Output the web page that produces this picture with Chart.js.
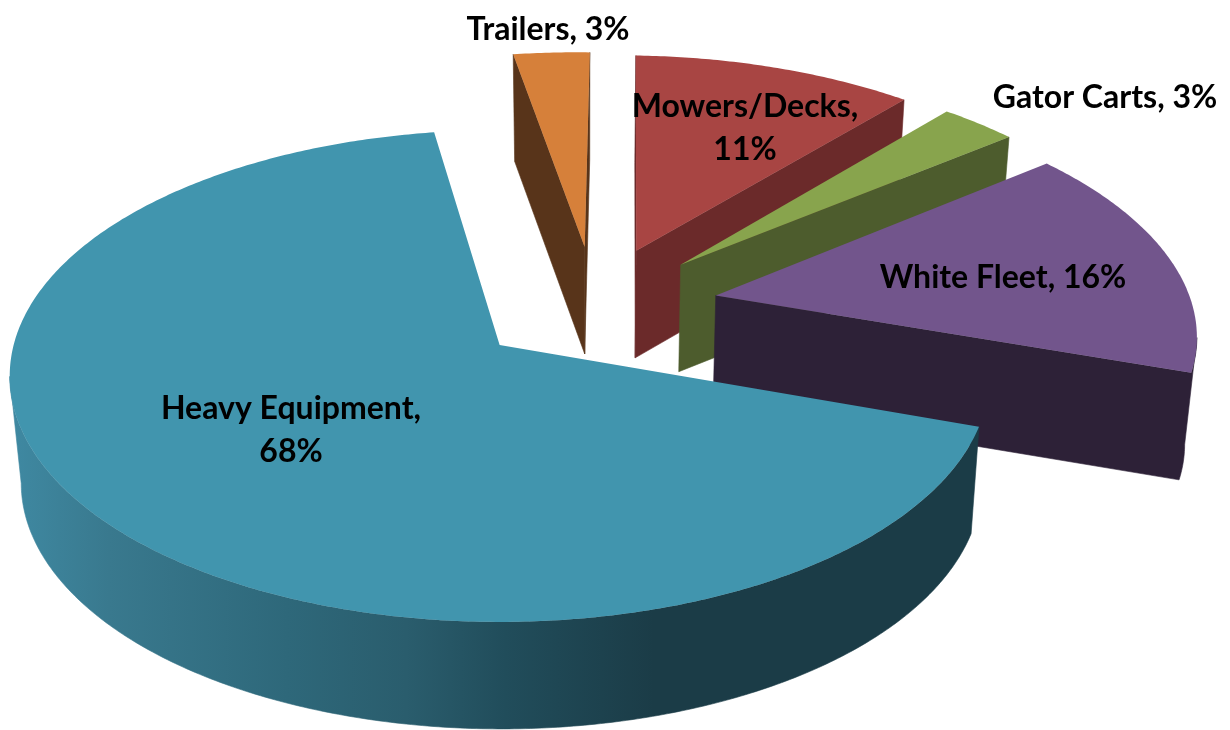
<!DOCTYPE html>
<html>
<head>
<meta charset="utf-8">
<title>Equipment share</title>
<script src="https://cdn.jsdelivr.net/npm/chart.js@4"></script>
<style>
  html, body { margin: 0; padding: 0; background: #fff; }
  canvas { display: block; }
</style>
</head>
<body>
<canvas id="chart" width="1230" height="730"></canvas>
<script>
// Share of the equipment budget by category, in percent.
const categories = ['Heavy Equipment', 'Trailers', 'Mowers/Decks', 'Gator Carts', 'White Fleet'];
const shares = [68, 3, 11, 3, 16];
const faceColors = ['#4195ae', '#d6803a', '#a84543', '#88a44d', '#72558c'];
const wallColors = ['#1b3c47', '#58341a', '#6b2a2a', '#4d5c2d', '#2d2137'];

// Label placement: text centre on the page, and whether the value wraps to a second line.
const labelSpots = [
  { x: 291, y: 409, wrap: true },
  { x: 548, y: 30, wrap: false },
  { x: 745, y: 107, wrap: true },
  { x: 1105, y: 98, wrap: false },
  { x: 1003, y: 278, wrap: false }
];

// Back-to-front paint order for the exploded wedges.
const paintOrder = [1, 2, 3, 4, 0];

// Tilted-disc camera. The plane origin is the apex of the first wedge.
const camera = {
  apexX: 500, apexY: 345,
  radiusX: 486, radiusY: 242,
  perspective: 0.126,
  depth: 107, taper: 0.02, vanishX: 585,
  // Where the undisplaced pie centre sits in plane units.
  centerU: 0.199, centerV: -0.167
};

function project(u, v, lower) {
  const w = 1 - camera.perspective * v;
  let x = camera.apexX + camera.radiusX * u / w;
  let y = camera.apexY + camera.radiusY * v / w;
  if (lower) {
    x = camera.vanishX + (x - camera.vanishX) * (1 - camera.taper);
    y += camera.depth;
  }
  return { x, y };
}

// Plane-space outline of one arc element, using the angles the pie controller computed.
function outline(arc) {
  const mid = (arc.startAngle + arc.endAngle) / 2;
  const shift = (arc.options.offset / 4) / arc.outerRadius;
  const cu = camera.centerU + Math.cos(mid) * shift;
  const cv = camera.centerV + Math.sin(mid) * shift;
  const pts = [{ u: cu, v: cv }];
  const steps = Math.max(4, Math.ceil((arc.endAngle - arc.startAngle) / 0.01));
  for (let i = 0; i <= steps; i++) {
    const a = arc.startAngle + (arc.endAngle - arc.startAngle) * i / steps;
    pts.push({ u: cu + Math.cos(a), v: cv + Math.sin(a) });
  }
  pts.push(pts[0]);
  return pts;
}

function tracePath(ctx, points) {
  ctx.beginPath();
  points.forEach((p, i) => (i ? ctx.lineTo(p.x, p.y) : ctx.moveTo(p.x, p.y)));
  ctx.closePath();
}

function wallFill(ctx, index) {
  if (index !== 0) return wallColors[index];
  // The large wedge's rim darkens from left to right.
  const g = ctx.createLinearGradient(10, 0, 1000, 0);
  g.addColorStop(0, '#3f89a2');
  g.addColorStop(0.1, '#39798e');
  g.addColorStop(0.28, '#2e687a');
  g.addColorStop(0.4, '#2a5d6d');
  g.addColorStop(0.5, '#214d5b');
  g.addColorStop(0.65, '#1b3c47');
  g.addColorStop(1, '#1b3c47');
  return g;
}

function drawWedge(ctx, arc, index) {
  const plane = outline(arc);
  const top = plane.map(p => project(p.u, p.v, false));
  const bottom = plane.map(p => project(p.u, p.v, true));
  const fill = wallFill(ctx, index);

  // An edge running leftwards on screen belongs to a wall facing the viewer.
  let run = [];
  const flush = () => {
    if (run.length > 1) {
      const poly = run.map(i => top[i]).concat(run.slice().reverse().map(i => bottom[i]));
      tracePath(ctx, poly);
      ctx.fillStyle = fill;
      ctx.strokeStyle = fill;
      ctx.lineWidth = 0.6;
      ctx.fill();
      ctx.stroke();
    }
    run = [];
  };
  for (let i = 0; i < top.length - 1; i++) {
    if (top[i + 1].x < top[i].x) {
      if (!run.length) run.push(i);
      run.push(i + 1);
    } else {
      flush();
    }
  }
  flush();

  tracePath(ctx, top);
  ctx.fillStyle = arc.options.backgroundColor;
  ctx.fill();
}

const tiltedPie = {
  id: 'tiltedPie',
  beforeDatasetDraw(chart) {
    const ctx = chart.ctx;
    const arcs = chart.getDatasetMeta(0).data;
    ctx.save();
    ctx.lineJoin = 'round';
    paintOrder.forEach(i => drawWedge(ctx, arcs[i], i));
    ctx.restore();
    return false;
  },
  afterDraw(chart) {
    const ctx = chart.ctx;
    ctx.save();
    ctx.fillStyle = '#000';
    ctx.font = 'bold 32px Lato, sans-serif';
    ctx.textAlign = 'center';
    ctx.textBaseline = 'middle';
    labelSpots.forEach((spot, i) => {
      const name = chart.data.labels[i];
      const value = chart.data.datasets[0].data[i] + '%';
      if (spot.wrap) {
        ctx.fillText(name + ',', spot.x, spot.y);
        ctx.fillText(value, spot.x, spot.y + 43);
      } else {
        ctx.fillText(name + ', ' + value, spot.x, spot.y);
      }
    });
    ctx.restore();
  }
};

new Chart(document.getElementById('chart'), {
  type: 'pie',
  data: {
    labels: categories,
    datasets: [{
      data: shares,
      backgroundColor: faceColors,
      borderWidth: 0,
      offset: 250,
      radius: 240
    }]
  },
  options: {
    responsive: false,
    animation: false,
    rotation: 108.9,
    plugins: { legend: { display: false }, tooltip: { enabled: false } }
  },
  plugins: [tiltedPie]
});
</script>
</body>
</html>
